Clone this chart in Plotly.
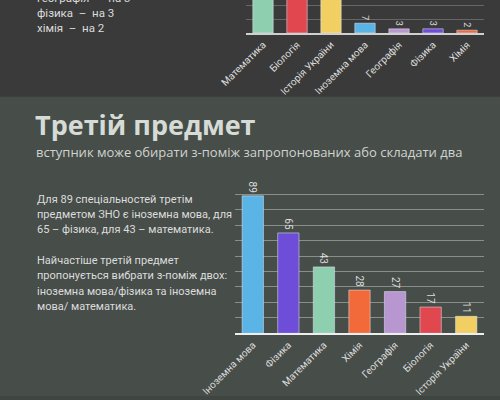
import plotly.graph_objects as go

# upper chart (cut off at the top of the picture)
top_subjects = ['Математика', 'Біологія', 'Історія України', 'Іноземна мова',
                'Географія', 'Фізика', 'Хімія']
top_values = [75, 62, 55, 7, 3, 3, 2]
top_colors = ['#8ecfb0', '#e0474f', '#f2cf62', '#5ab4e5', '#b896d0', '#6e4ed9', '#f26a3a']

# third subject chart
third_subjects = ['Іноземна мова', 'Фізика', 'Математика', 'Хімія',
                  'Географія', 'Біологія', 'Історія України']
third_values = [89, 65, 43, 28, 27, 17, 11]
third_colors = ['#5ab4e5', '#6e4ed9', '#8ecfb0', '#f26a3a', '#b896d0', '#e0474f', '#f2cf62']

BG_TOP = '#3a3a3a'
BG_BOTTOM = '#474d49'
TXT = '#dcdcdc'

fig = go.Figure()

fig.add_trace(go.Bar(
    x=top_subjects, y=top_values, marker_color=top_colors,
    text=top_values, textposition='outside', textangle=90,
    textfont=dict(size=9, color=TXT, family='Roboto'),
    cliponaxis=True, xaxis='x', yaxis='y', showlegend=False))

fig.add_trace(go.Bar(
    x=third_subjects, y=third_values, marker_color=third_colors,
    text=third_values, textposition='outside', textangle=90,
    textfont=dict(size=10, color=TXT, family='Roboto'),
    cliponaxis=False, xaxis='x2', yaxis='y2', showlegend=False))

axis_font = dict(size=10, color=TXT, family='Roboto')

fig.update_layout(
    width=500, height=400,
    margin=dict(l=0, r=0, t=0, b=0, autoexpand=False),
    paper_bgcolor=BG_BOTTOM, plot_bgcolor='rgba(0,0,0,0)',
    bargap=0.4,
    xaxis=dict(domain=[0.492, 0.968], anchor='y', tickangle=-45, tickfont=axis_font,
               automargin=False, showline=True, linecolor='#d0d0d0', linewidth=2,
               showgrid=False, ticks=''),
    yaxis=dict(domain=[0.9175, 1.0], anchor='x', range=[0, 23.6], dtick=10,
               automargin=False, showticklabels=False, gridcolor='#666666',
               gridwidth=1, zeroline=False),
    xaxis2=dict(domain=[0.47, 0.968], anchor='y2', tickangle=-45, tickfont=axis_font,
                automargin=False, showline=True, linecolor='#eeeeee', linewidth=2,
                showgrid=False, ticks=''),
    yaxis2=dict(domain=[0.1667, 0.522], anchor='x2', range=[0, 92], dtick=10,
                automargin=False, showticklabels=False, gridcolor='#8a8e8b',
                gridwidth=1, zeroline=False),
    shapes=[
        dict(type='rect', xref='paper', yref='paper', x0=0, x1=1, y0=0.758, y1=1,
             fillcolor=BG_TOP, line_width=0, layer='below'),
        dict(type='rect', xref='paper', yref='paper', x0=0, x1=1, y0=0, y1=0.01,
             fillcolor='#3f4541', line_width=0, layer='below'),
    ],
)

# left-hand texts
top_lines = [('географія  –  на 3', -2), ('фізика  –  на 3', 13), ('хімія  –  на 2', 28)]
for line, py in top_lines:
    fig.add_annotation(text=line, xref='paper', yref='paper', x=35 / 500, y=1 - py / 400,
                       xanchor='left', yanchor='middle', showarrow=False,
                       font=dict(size=11.5, color=TXT, family='Roboto'))

fig.add_annotation(text='<b>Третій предмет</b>', xref='paper', yref='paper',
                   x=33 / 500, y=1 - 124 / 400, xanchor='left', yanchor='middle',
                   showarrow=False, font=dict(size=27, color='#d6dbd6', family='Open Sans'))
fig.add_annotation(text='вступник може обирати з-поміж запропонованих або складати два',
                   xref='paper', yref='paper', x=34 / 500, y=1 - 152 / 400,
                   xanchor='left', yanchor='middle', showarrow=False,
                   font=dict(size=13, color='#d0d4d0', family='Open Sans'))

body_lines = [
    ('Для 89 спеціальностей третім', 199),
    ('предметом ЗНО є іноземна мова, для', 214),
    ('65 – фізика, для 43 – математика.', 229),
    ('Найчастіше третій предмет', 260),
    ('пропонується вибрати з-поміж двох:', 275),
    ('іноземна мова/фізика та іноземна', 291),
    ('мова/ математика.', 306),
]
for line, py in body_lines:
    fig.add_annotation(text=line, xref='paper', yref='paper', x=35 / 500, y=1 - py / 400,
                       xanchor='left', yanchor='middle', showarrow=False,
                       font=dict(size=11, color=TXT, family='Roboto'))

# drop the default page margin so the 500x400 figure fills the window
fig.write_html('out.html', config={'displayModeBar': False},
               post_script="document.body.style.margin='0';"
                           "document.body.style.background='" + BG_BOTTOM + "';")
